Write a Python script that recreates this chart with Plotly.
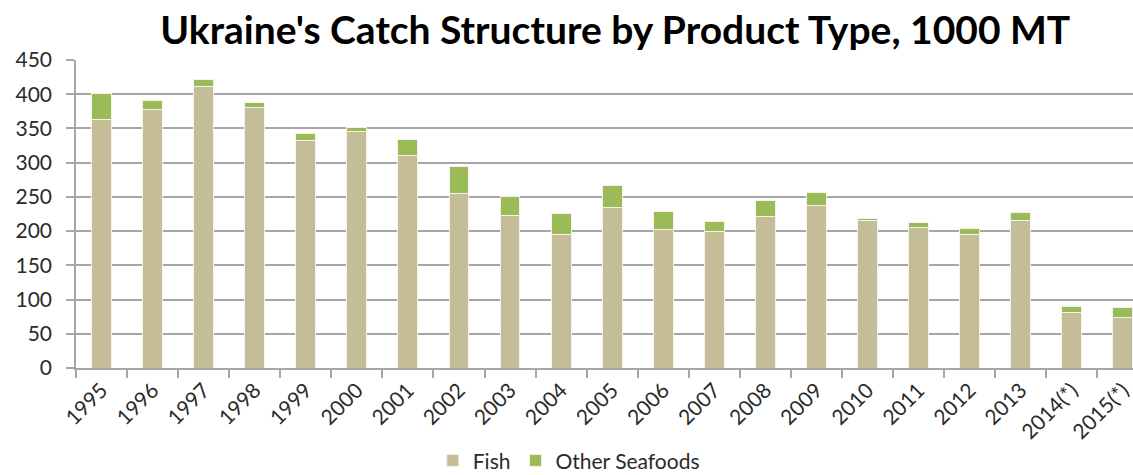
import plotly.graph_objects as go

years = ["1995", "1996", "1997", "1998", "1999", "2000", "2001", "2002", "2003", "2004",
         "2005", "2006", "2007", "2008", "2009", "2010", "2011", "2012", "2013",
         "2014(*)", "2015(*)"]
fish = [363, 377, 412, 380, 333, 346, 311, 255, 223, 195,
        234, 202, 199, 221, 238, 215, 206, 195, 215, 81, 74]
other_seafoods = [38, 14, 9, 8, 9, 5, 23, 39, 27, 31,
                  32, 27, 15, 24, 19, 4, 6, 9, 12, 9, 14]

FONT = "Lato"
TEXT = "#2a2a2a"
GRID = "#A6A6A6"

fig = go.Figure()
fig.add_bar(x=years, y=fish, name="Fish", marker_color="#C4BD97",
            marker_line=dict(color="#F4F2EA", width=1), width=0.39)
fig.add_bar(x=years, y=other_seafoods, name="Other Seafoods", marker_color="#9BBB59",
            marker_line=dict(color="#F4F2EA", width=1), width=0.39)

fig.update_layout(
    barmode="stack",
    width=1133, height=475,
    margin=dict(l=76, r=0, t=60, b=107, autoexpand=False),
    paper_bgcolor="white", plot_bgcolor="white",
    font=dict(family=FONT, size=21, color=TEXT),
    title=dict(text="<b>Ukraine's Catch Structure by Product Type, 1000 MT</b>",
               xref="container", x=0.543, xanchor="center",
               yref="container", y=0.937, yanchor="middle",
               font=dict(family=FONT, size=39, color="black")),
    showlegend=True,
    legend=dict(orientation="h", xref="container", yref="container",
                x=0.502, xanchor="center", y=0.03, yanchor="middle",
                font=dict(size=21, color=TEXT), traceorder="normal",
                itemwidth=30),
)
fig.update_xaxes(range=[-0.5, 20.2], showgrid=False, showline=True,
                 linecolor=GRID, linewidth=1.5,
                 ticks="outside", tickson="boundaries", ticklen=8, tickcolor=GRID,
                 tickwidth=1.5, tickangle=-45, tickfont=dict(size=21, color=TEXT))
fig.update_yaxes(range=[0, 450], dtick=50, showgrid=True, gridcolor=GRID, gridwidth=1.5,
                 showline=True, linecolor=GRID, linewidth=1.5, zeroline=False,
                 ticks="outside", ticklen=8, tickcolor=GRID, tickwidth=1.5,
                 ticklabelstandoff=10,
                 tickfont=dict(size=21, color=TEXT))

fig.write_html("out.html")
